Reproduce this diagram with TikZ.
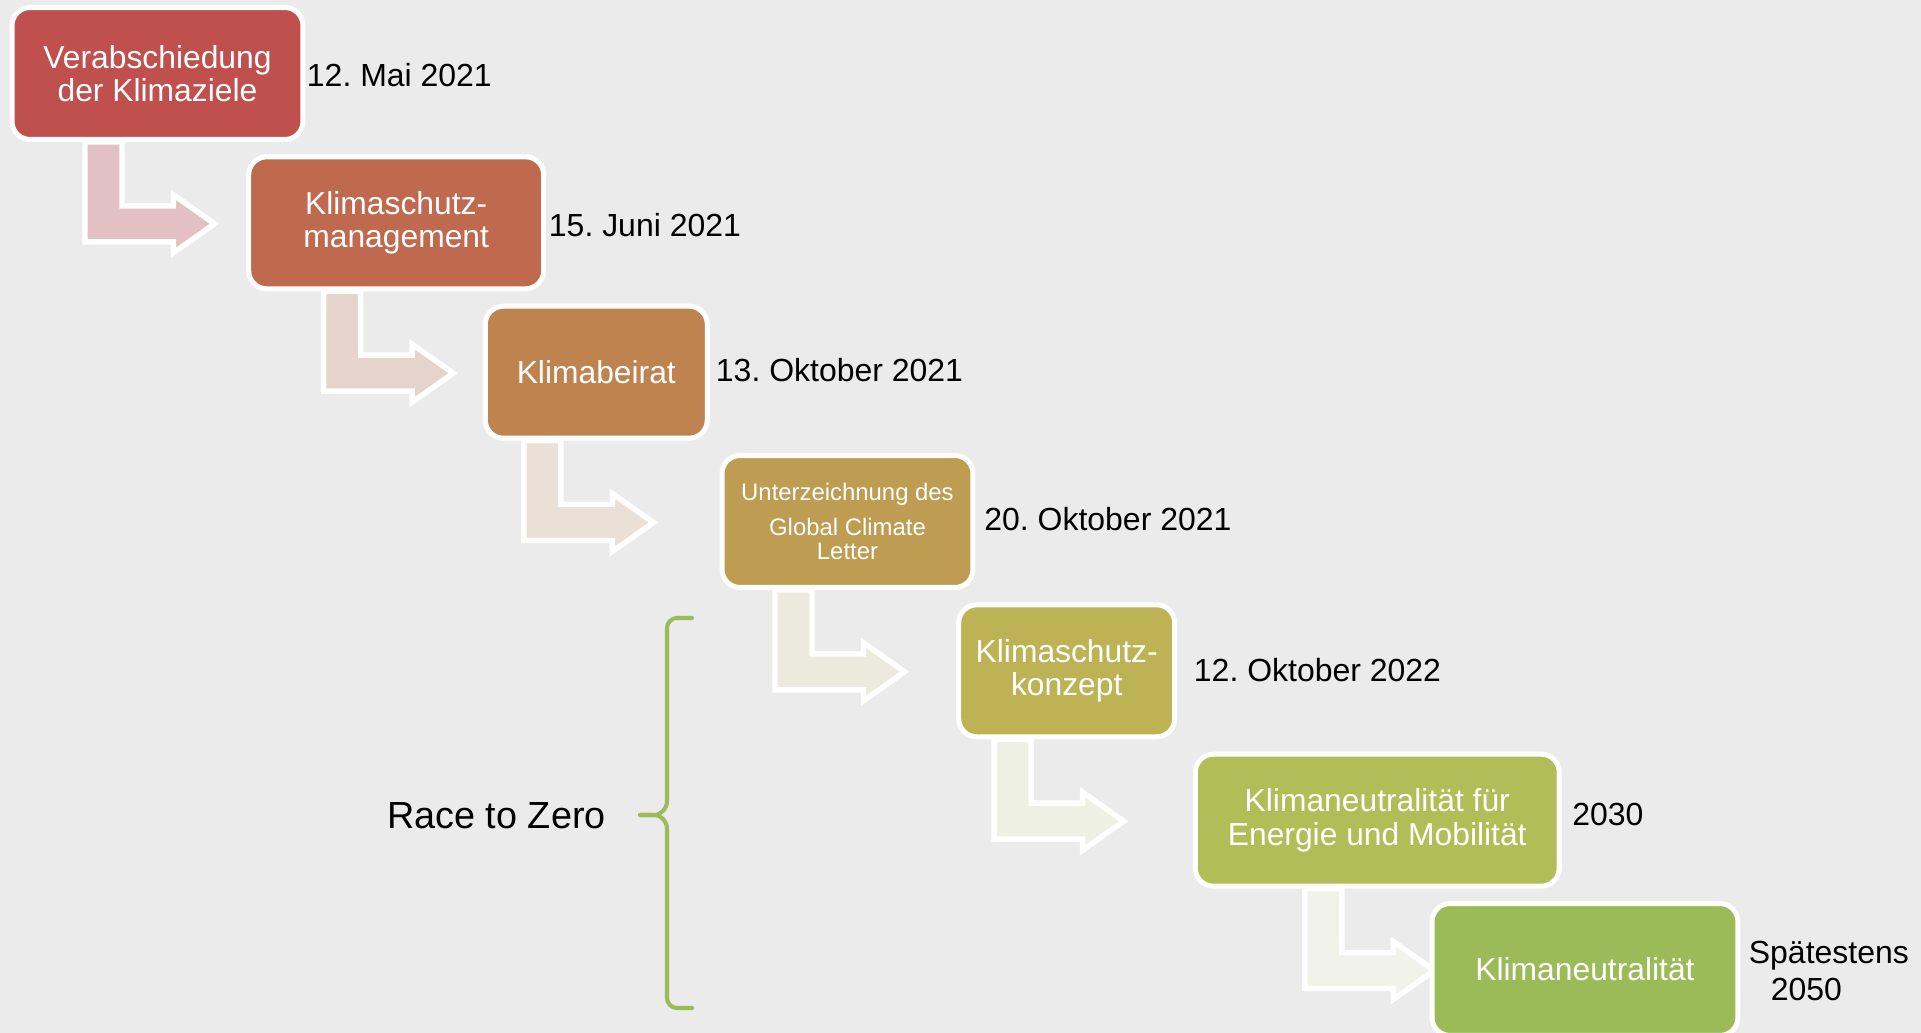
\documentclass[tikz,border=0pt]{standalone}
\usepackage{fontspec}
\setmainfont{Liberation Sans}
\usepackage{tikz}
\usetikzlibrary{calc}
\usetikzlibrary{positioning}
\frenchspacing

\definecolor{bggrey}{RGB}{235,235,235}
\definecolor{boxA}{RGB}{192,80,77}
\definecolor{boxB}{RGB}{191,106,79}
\definecolor{boxC}{RGB}{191,131,80}
\definecolor{boxD}{RGB}{190,156,82}
\definecolor{boxE}{RGB}{190,179,84}
\definecolor{boxF}{RGB}{177,189,86}
\definecolor{boxG}{RGB}{155,187,89}
\definecolor{arrA}{RGB}{227,193,195}
\definecolor{arrB}{RGB}{230,211,203}
\definecolor{arrC}{RGB}{234,224,213}
\definecolor{arrD}{RGB}{236,233,221}
\definecolor{arrE}{RGB}{238,240,228}
\definecolor{arrF}{RGB}{241,243,235}

\pgfdeclarelayer{background}
\pgfsetlayers{background,main}

% bent arrow from the box #1 to the box #2
\newcommand{\bendarrow}[3]{%
  \filldraw[bentarrow, fill=#3]
    ($(#1.south)+(-72.5,0)$)
    -- ($(#1.south |- #2.west)+(-72.5,19)$)
    -- ($(#1.south |- #2.west)+(16,19)$)
    -- ($(#1.south |- #2.west)+(16,30)$)
    -- ($(#1.south |- #2.west)+(57,1)$)
    -- ($(#1.south |- #2.west)+(16,-28)$)
    -- ($(#1.south |- #2.west)+(16,-17)$)
    -- ($(#1.south |- #2.west)+(-35.5,-17)$)
    -- ($(#1.south)+(-35.5,0)$) -- cycle;}

\begin{document}
\begin{tikzpicture}[x=0.02cm, y=-0.02cm,
    stepbox/.style={draw=white, line width=2.85pt, rounded corners=0.36cm,
      minimum height=2.64cm, inner sep=0pt, anchor=west, align=center,
      text=white, font=\fontsize{18.1}{18.9}\selectfont},
    datum/.style={anchor=base west, inner sep=0pt,
      font=\fontsize{18.2}{21.6}\selectfont},
    bentarrow/.style={draw=white, line width=3.1pt},
    bracket/.style={draw=boxG, line width=2.3pt, line cap=round}]
        % Background and size of the picture
        \useasboundingbox (0,0) rectangle (1921,1033);
        \begin{pgfonlayer}{background}
          \fill[bggrey] (0,0) rectangle (1921,1033);
        \end{pgfonlayer}
        % The steps
        \node[stepbox, fill=boxA, minimum width=5.82cm] (s1) at (9.5,73.5) {Verabschiedung\\der Klimaziele};
        \node[stepbox, fill=boxB, minimum width=5.90cm] (s2) at (246.2,222.8) {Klimaschutz-\\management};
        \node[stepbox, fill=boxC, minimum width=4.44cm] (s3) at (482.8,372.2) {Klimabeirat};
        \node[stepbox, fill=boxD, minimum width=5.02cm,
          font=\fontsize{13.6}{14.2}\selectfont] (s4) at (719.5,521.5) {Unterzeichnung des\\[0.2cm]Global Climate\\Letter};
        \node[stepbox, fill=boxE, minimum width=4.32cm] (s5) at (956.2,670.8) {Klimaschutz-\\konzept};
        \node[stepbox, fill=boxF, minimum width=7.28cm] (s6) at (1192.8,820.2) {Klimaneutralität für\\Energie und Mobilität};
        \node[stepbox, fill=boxG, minimum width=6.12cm] (s7) at (1429.5,969.5) {Klimaneutralität};
        % The dates
        \node[datum] (t1) at (306.6,87) {12. Mai 2021};
        \node[datum] (t2) at (548.6,237) {15. Juni 2021};
        \node[datum] (t3) at (715.6,382) {13. Oktober 2021};
        \node[datum] (t4) at (984,531) {20. Oktober 2021};
        \node[datum] (t5) at (1193.6,682) {12. Oktober 2022};
        \node[datum] (t6) at (1572,825) {2030};
        \node[datum, anchor=west, align=left] (t7) at (1748.5,971) {Spätestens\\\hspace*{0.44cm}2050};
        % Arrows between the steps
        \begin{pgfonlayer}{background}
          \bendarrow{s1}{s2}{arrA}
          \bendarrow{s2}{s3}{arrB}
          \bendarrow{s3}{s4}{arrC}
          \bendarrow{s4}{s5}{arrD}
          \bendarrow{s5}{s6}{arrE}
          \bendarrow{s6}{s7}{arrF}
        \end{pgfonlayer}
        % Race to Zero bracket
        \draw[bracket] (692,618) -- (677,618) to[out=180,in=90] (667,628)
          -- (667,801) to[out=-90,in=0] (654,815) -- (640,815);
        \draw[bracket] (640,815) -- (654,815) to[out=0,in=90] (667,829)
          -- (667,998) to[out=-90,in=180] (677,1008) -- (692,1008);
        \node[anchor=base west, inner sep=0pt, font=\fontsize{21.5}{25}\selectfont] (race) at (387,828) {Race to Zero};
      \end{tikzpicture}
\end{document}
